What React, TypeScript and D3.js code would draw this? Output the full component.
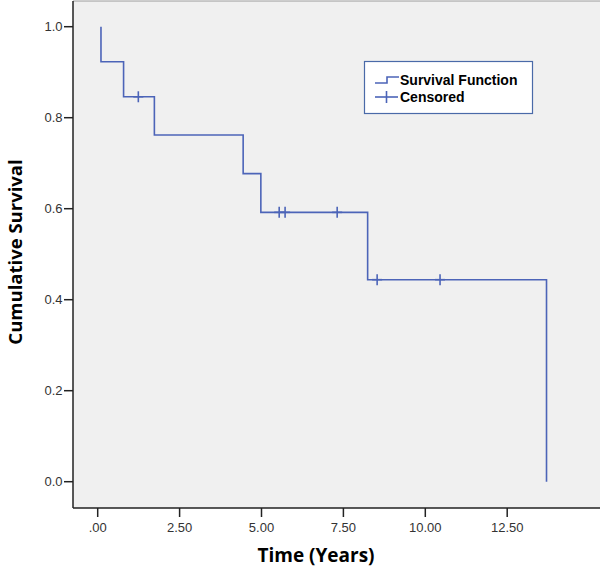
import React from "react";
import * as d3 from "d3";

const eventTimes = [0.1, 0.79, 1.73, 4.44, 4.98, 8.24, 13.7];
const survivalAfter = [0.923, 0.846, 0.762, 0.677, 0.592, 0.444, 0.0];
const startSurvival = 1.0;
const censoredTimes = [1.24, 5.54, 5.72, 7.31, 8.53, 10.45];
const xTicks = [0, 2.5, 5, 7.5, 10, 12.5];
const xTickLabels = [".00", "2.50", "5.00", "7.50", "10.00", "12.50"];
const yTicks = [0, 0.2, 0.4, 0.6, 0.8, 1.0];
const legendLabels = ["Survival Function", "Censored"];

const LINE = "#4c64b8";

export default function App() {
  const W = 600, H = 570;
  const plot = { left: 73, top: 1, right: 600, bottom: 508 };
  const x = d3.scaleLinear().domain([0, 2.5]).range([97.7, 179.6]);
  const y = d3.scaleLinear().domain([0, 1]).range([481.7, 26.7]);

  const pts: [number, number][] = [[eventTimes[0], startSurvival]];
  let prev = startSurvival;
  eventTimes.forEach((t, i) => {
    pts.push([t, prev]);
    pts.push([t, survivalAfter[i]]);
    prev = survivalAfter[i];
  });
  const line = d3.line<[number, number]>().x((d) => x(d[0])).y((d) => y(d[1]));

  const survAt = (t: number) => {
    let s = startSurvival;
    eventTimes.forEach((et, i) => {
      if (et <= t) s = survivalAfter[i];
    });
    return s;
  };

  const lx = 364.5, ly = 61.5, lw = 168, lh = 52;

  return (
    <svg width={W} height={H} style={{ position: "absolute", left: 0, top: 0, background: "#fff" }}>
      <rect x={plot.left} y={plot.top} width={plot.right - plot.left} height={plot.bottom - plot.top} fill="#f0f0f0" />
      <line x1={plot.left} x2={plot.right} y1={plot.top} y2={plot.top} stroke="#9a9a9a" strokeWidth={1} />
      <path d={line(pts) || ""} fill="none" stroke={LINE} strokeWidth={1.6} />
      {censoredTimes.map((t, i) => {
        const cx = x(t), cy = y(survAt(t));
        return (
          <g key={i} stroke={LINE} strokeWidth={1.6}>
            <line x1={cx} x2={cx} y1={cy - 5.5} y2={cy + 5.5} />
            <line x1={cx - 5} x2={cx + 5} y1={cy} y2={cy} />
          </g>
        );
      })}
      <line x1={plot.left} x2={plot.left} y1={plot.top} y2={plot.bottom} stroke="#222" strokeWidth={1.5} />
      <line x1={plot.left} x2={plot.right} y1={plot.bottom} y2={plot.bottom} stroke="#222" strokeWidth={1.5} />
      {yTicks.map((v) => (
        <g key={v}>
          <line x1={64} x2={plot.left} y1={y(v)} y2={y(v)} stroke="#222" strokeWidth={1.5} />
          <text x={62.5} y={y(v)} dy="0.36em" textAnchor="end" fontFamily="Liberation Sans, Arial" fontSize={13} fill="#333">
            {v.toFixed(1)}
          </text>
        </g>
      ))}
      {xTicks.map((v, i) => (
        <g key={v}>
          <line x1={x(v)} x2={x(v)} y1={plot.bottom} y2={517} stroke="#222" strokeWidth={1.5} />
          <text x={x(v)} y={527} dy="0.36em" textAnchor="middle" fontFamily="Liberation Sans, Arial" fontSize={13} fill="#333">
            {xTickLabels[i]}
          </text>
        </g>
      ))}
      <text x={316} y={555} dy="0.36em" textAnchor="middle" fontFamily="Open Sans" fontWeight="bold" fontSize={19} fill="#000">
        Time (Years)
      </text>
      <text transform={`translate(15,252) rotate(-90)`} dy="0.36em" textAnchor="middle" fontFamily="Open Sans" fontWeight="bold" fontSize={18.5} fill="#000">
        Cumulative Survival
      </text>
      <rect x={lx} y={ly} width={lw} height={lh} fill="#fff" stroke="#4a6aa8" strokeWidth={1.2} />
      <path d={`M375,83 H387 V77 H399`} fill="none" stroke={LINE} strokeWidth={1.6} />
      <line x1={375} x2={398} y1={97} y2={97} stroke={LINE} strokeWidth={1.6} />
      <line x1={386.5} x2={386.5} y1={91} y2={103} stroke={LINE} strokeWidth={1.6} />
      <text x={400} y={79.5} dy="0.36em" fontFamily="Liberation Sans, Arial" fontWeight="bold" fontSize={14} fill="#000">
        {legendLabels[0]}
      </text>
      <text x={400} y={96.5} dy="0.36em" fontFamily="Liberation Sans, Arial" fontWeight="bold" fontSize={14} fill="#000">
        {legendLabels[1]}
      </text>
    </svg>
  );
}
